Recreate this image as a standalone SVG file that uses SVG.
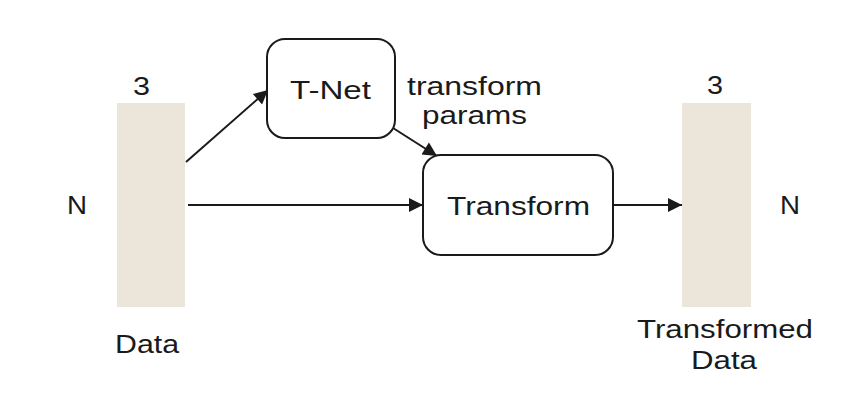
<svg xmlns="http://www.w3.org/2000/svg" width="868" height="401" viewBox="0 0 868 401">
<style>
text{font-family:"Liberation Sans",Arial,sans-serif;font-size:25px;fill:#1a1a1a}
.box{fill:#fff;stroke:#1a1a1a;stroke-width:2}
.bar{fill:#ebe5da}
.conn{stroke:#1a1a1a;stroke-width:2;fill:none;marker-end:url(#ah)}
</style>
<defs>
<marker id="ah" viewBox="0 0 10 10" refX="10" refY="5" markerWidth="8" markerHeight="7" markerUnits="strokeWidth" orient="auto">
<path d="M0,0 L10,5 L0,10 z" fill="#1a1a1a"/>
</marker>
</defs>
<rect width="868" height="401" fill="#fff"/>
<g id="connectors">
<line class="conn" x1="186" y1="162" x2="268" y2="90"/>
<line class="conn" x1="188" y1="205" x2="423" y2="205"/>
<line class="conn" x1="393" y1="128" x2="437" y2="156"/>
<line class="conn" x1="613" y1="205" x2="682" y2="205"/>
</g>
<g id="data">
<rect class="bar" x="117" y="103" width="68" height="204"/>
<text x="133" y="95" textLength="17" lengthAdjust="spacingAndGlyphs">3</text>
<text x="67" y="214" textLength="20" lengthAdjust="spacingAndGlyphs">N</text>
<text x="115" y="353" textLength="64" lengthAdjust="spacingAndGlyphs">Data</text>
</g>
<g id="tnet">
<rect class="box" x="267" y="39" width="128" height="99" rx="18"/>
<text x="290" y="99" textLength="81" lengthAdjust="spacingAndGlyphs">T-Net</text>
</g>
<g id="params-label">
<text x="407" y="95" textLength="135" lengthAdjust="spacingAndGlyphs">transform</text>
<text x="422" y="124" textLength="105" lengthAdjust="spacingAndGlyphs">params</text>
</g>
<g id="transform">
<rect class="box" x="423" y="155" width="190" height="100" rx="18"/>
<text x="447" y="215" textLength="143" lengthAdjust="spacingAndGlyphs">Transform</text>
</g>
<g id="transformed-data">
<rect class="bar" x="682" y="103" width="69" height="204"/>
<text x="707" y="94" textLength="16" lengthAdjust="spacingAndGlyphs">3</text>
<text x="780" y="214" textLength="20" lengthAdjust="spacingAndGlyphs">N</text>
<text x="637" y="338" textLength="176" lengthAdjust="spacingAndGlyphs">Transformed</text>
<text x="691" y="369" textLength="66" lengthAdjust="spacingAndGlyphs">Data</text>
</g>
</svg>
